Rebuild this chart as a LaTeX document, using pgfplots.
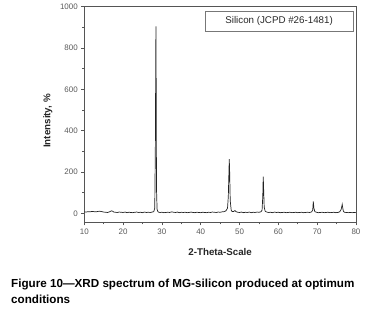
\documentclass[border=0pt]{standalone}
\usepackage{fontspec}
\setmainfont{Liberation Sans}
\usepackage{pgfplots}
\pgfplotsset{compat=1.18}
\definecolor{axgray}{HTML}{555555}
\definecolor{lblgray}{HTML}{5A5A5A}
\definecolor{datacol}{HTML}{222222}
\begin{document}
\begin{tikzpicture}
\path[use as bounding box] (0,0) rectangle (371bp,318bp);
\begin{axis}[
  scale only axis,
  width=271.7bp, height=215.6bp,
  at={(84.3bp,95.7bp)}, anchor=south west,
  xmin=10, xmax=80, ymin=-43.6, ymax=1000,
  xtick={10,20,...,80}, minor xtick={15,25,...,75},
  ytick={0,200,...,1000}, minor ytick={100,300,...,900},
  tick pos=left, tick align=outside,
  major tick length=3bp, minor tick length=2bp,
  axis line style={axgray, line width=0.8bp},
  every tick/.style={axgray, line width=0.6bp},
  tick label style={font=\fontsize{8}{9}\selectfont, text=lblgray},
  /pgf/number format/assume math mode=true,
  /pgf/number format/1000 sep={},
  xlabel={2-Theta-Scale},
  ylabel={Intensity, \%},
  label style={font=\fontsize{9.8}{11}\selectfont\bfseries, text=black!85},
  xlabel style={at={(axis description cs:0.5,-0.136)}, anchor=center},
  ylabel style={at={(axis description cs:-0.134,0.47)}, anchor=center},
]
\addplot[datacol, line width=0.7bp] coordinates {
(10,7) (10.5,6) (11,8) (11.5,7) (12,9) (12.5,8) (13,7) (13.5,9) (14,10) (14.5,8)
(15,6) (15.5,5) (16,4) (16.5,7) (17,12) (17.3,10) (17.6,6) (18,5) (18.5,4) (19,6)
(19.5,5) (20,4) (20.5,6) (21,3) (21.5,5) (22,4) (22.5,3) (23,5) (23.5,6) (24,4)
(24.5,5) (25,3) (25.5,6) (26,4) (26.5,5) (27,4) (27.5,6) (27.9,8) (28.15,25)
(28.3,300) (28.45,905) (28.52,620) (28.6,120) (28.75,20) (28.95,8) (29.2,5) (29.5,4)
(30,5) (30.5,3) (31,4) (31.5,5) (32,4) (32.5,7) (33,5) (33.5,4) (34,6) (34.5,3)
(35,5) (35.5,4) (36,5) (36.5,3) (37,4) (37.5,6) (38,4) (38.5,3) (39,5) (39.5,4)
(40,3) (40.5,5) (41,4) (41.5,3) (42,5) (42.5,4) (43,6) (43.5,5) (44,4) (44.5,6)
(45,5) (45.5,7) (46,8) (46.5,12) (46.9,25) (47.1,80) (47.35,262) (47.45,200)
(47.6,60) (47.85,15) (48.1,8) (48.5,9) (48.8,13) (49.1,8) (49.5,5) (50,4) (50.5,6)
(51,3) (51.5,5) (52,4) (52.5,6) (53,3) (53.5,5) (54,4) (54.5,6) (55,5) (55.5,7)
(55.8,15) (55.98,80) (56.1,178) (56.2,120) (56.35,30) (56.6,10) (57,6) (57.5,4)
(58,5) (58.5,3) (59,6) (59.5,4) (60,5) (60.5,3) (61,4) (61.5,5) (62,3) (62.5,4)
(63,5) (63.5,3) (64,4) (64.5,5) (65,3) (65.5,4) (66,5) (66.5,3) (67,4) (67.5,5)
(68,4) (68.5,6) (68.85,15) (69.0,57) (69.15,25) (69.4,8) (69.8,5) (70.3,3) (70.8,4)
(71.3,5) (71.8,3) (72.3,4) (72.8,5) (73.3,3) (73.8,4) (74.3,5) (74.8,3) (75.3,4)
(75.8,7) (76.2,20) (76.45,43) (76.55,30) (76.75,10) (77,5) (77.5,4) (78,3) (78.5,4)
(79,3) (79.5,4) (80,3)
};
\node[draw=axgray!80, line width=0.5bp, minimum width=148bp, minimum height=20bp,
  inner sep=0pt, font=\fontsize{9.8}{11}\selectfont, text=black!85]
  at (rel axis cs:0.717,0.934) {Silicon (JCPD \#26-1481)};
\end{axis}
\node[anchor=base west, align=left, font=\fontsize{11.7}{16}\selectfont\bfseries, inner sep=0pt]
  at (11bp,14.7bp) {Figure 10—XRD spectrum of MG-silicon produced at optimum\\conditions};
\end{tikzpicture}
\end{document}
